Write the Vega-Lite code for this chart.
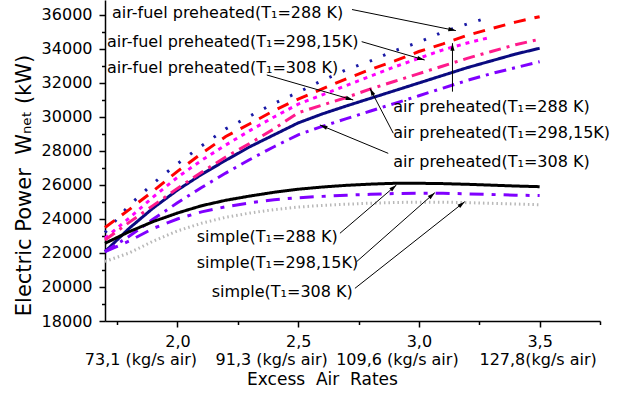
{
  "$schema": "https://vega.github.io/schema/vega-lite/v6.json",
  "width": 495,
  "height": 321,
  "autosize": {"type": "none"},
  "padding": {"left": 105, "top": 0, "right": 22, "bottom": 75},
  "config": {
    "view": {"stroke": null},
    "font": "DejaVu Sans",
    "axis": {"grid": false, "domainColor": "#000", "tickColor": "#000", "labelColor": "#000", "titleColor": "#000", "labelFontSize": 16, "titleFontSize": 17, "titleFontWeight": "normal", "domainWidth": 1.5, "tickWidth": 1.5}
  },
  "datasets": {
    "lines": [
      {"s": "af288", "x": 1.7, "y": 23200}, {"s": "af288", "x": 1.8, "y": 24800}, {"s": "af288", "x": 1.9, "y": 26100}, {"s": "af288", "x": 2.0, "y": 27250}, {"s": "af288", "x": 2.1, "y": 28300}, {"s": "af288", "x": 2.2, "y": 29300}, {"s": "af288", "x": 2.3, "y": 30050}, {"s": "af288", "x": 2.4, "y": 30800}, {"s": "af288", "x": 2.5, "y": 31450}, {"s": "af288", "x": 2.6, "y": 32150}, {"s": "af288", "x": 2.7, "y": 32780}, {"s": "af288", "x": 2.8, "y": 33300}, {"s": "af288", "x": 2.9, "y": 33900}, {"s": "af288", "x": 3.0, "y": 34400}, {"s": "af288", "x": 3.1, "y": 35000}, {"s": "af288", "x": 3.2, "y": 35470}, {"s": "af288", "x": 3.3, "y": 35900},
      {"s": "af298", "x": 1.7, "y": 23500}, {"s": "af298", "x": 1.8, "y": 24550}, {"s": "af298", "x": 1.9, "y": 25650}, {"s": "af298", "x": 2.0, "y": 26800}, {"s": "af298", "x": 2.1, "y": 27850}, {"s": "af298", "x": 2.2, "y": 28850}, {"s": "af298", "x": 2.3, "y": 29600}, {"s": "af298", "x": 2.4, "y": 30380}, {"s": "af298", "x": 2.5, "y": 31050}, {"s": "af298", "x": 2.6, "y": 31650}, {"s": "af298", "x": 2.7, "y": 32250}, {"s": "af298", "x": 2.8, "y": 32800}, {"s": "af298", "x": 2.9, "y": 33300}, {"s": "af298", "x": 3.0, "y": 33850}, {"s": "af298", "x": 3.1, "y": 34300}, {"s": "af298", "x": 3.2, "y": 34800}, {"s": "af298", "x": 3.3, "y": 35200}, {"s": "af298", "x": 3.4, "y": 35580}, {"s": "af298", "x": 3.5, "y": 35900},
      {"s": "af308", "x": 1.7, "y": 22080}, {"s": "af308", "x": 1.8, "y": 23450}, {"s": "af308", "x": 1.9, "y": 24650}, {"s": "af308", "x": 2.0, "y": 25700}, {"s": "af308", "x": 2.1, "y": 26620}, {"s": "af308", "x": 2.2, "y": 27450}, {"s": "af308", "x": 2.3, "y": 28250}, {"s": "af308", "x": 2.4, "y": 28950}, {"s": "af308", "x": 2.5, "y": 29650}, {"s": "af308", "x": 2.6, "y": 30180}, {"s": "af308", "x": 2.7, "y": 30650}, {"s": "af308", "x": 2.8, "y": 31100}, {"s": "af308", "x": 2.9, "y": 31550}, {"s": "af308", "x": 3.0, "y": 32000}, {"s": "af308", "x": 3.1, "y": 32450}, {"s": "af308", "x": 3.2, "y": 32900}, {"s": "af308", "x": 3.3, "y": 33300}, {"s": "af308", "x": 3.4, "y": 33700}, {"s": "af308", "x": 3.5, "y": 34040},
      {"s": "ap288", "x": 1.7, "y": 22870}, {"s": "ap288", "x": 1.8, "y": 24050}, {"s": "ap288", "x": 1.9, "y": 25300}, {"s": "ap288", "x": 2.0, "y": 26450}, {"s": "ap288", "x": 2.1, "y": 27450}, {"s": "ap288", "x": 2.2, "y": 28350}, {"s": "ap288", "x": 2.3, "y": 29200}, {"s": "ap288", "x": 2.4, "y": 30000}, {"s": "ap288", "x": 2.5, "y": 30750}, {"s": "ap288", "x": 2.6, "y": 31300}, {"s": "ap288", "x": 2.7, "y": 31850}, {"s": "ap288", "x": 2.8, "y": 32400}, {"s": "ap288", "x": 2.9, "y": 32950}, {"s": "ap288", "x": 3.0, "y": 33450}, {"s": "ap288", "x": 3.1, "y": 33950}, {"s": "ap288", "x": 3.2, "y": 34350}, {"s": "ap288", "x": 3.3, "y": 34700},
      {"s": "ap298", "x": 1.7, "y": 22760}, {"s": "ap298", "x": 1.8, "y": 23800}, {"s": "ap298", "x": 1.9, "y": 24800}, {"s": "ap298", "x": 2.0, "y": 25800}, {"s": "ap298", "x": 2.1, "y": 26750}, {"s": "ap298", "x": 2.2, "y": 27650}, {"s": "ap298", "x": 2.3, "y": 28450}, {"s": "ap298", "x": 2.4, "y": 29300}, {"s": "ap298", "x": 2.5, "y": 30250}, {"s": "ap298", "x": 2.6, "y": 30700}, {"s": "ap298", "x": 2.7, "y": 31150}, {"s": "ap298", "x": 2.8, "y": 31650}, {"s": "ap298", "x": 2.9, "y": 32100}, {"s": "ap298", "x": 3.0, "y": 32550}, {"s": "ap298", "x": 3.1, "y": 33000}, {"s": "ap298", "x": 3.2, "y": 33450}, {"s": "ap298", "x": 3.3, "y": 33850}, {"s": "ap298", "x": 3.4, "y": 34250}, {"s": "ap298", "x": 3.5, "y": 34570},
      {"s": "ap308", "x": 1.7, "y": 22080}, {"s": "ap308", "x": 1.8, "y": 22980}, {"s": "ap308", "x": 1.9, "y": 24000}, {"s": "ap308", "x": 2.0, "y": 24950}, {"s": "ap308", "x": 2.1, "y": 25850}, {"s": "ap308", "x": 2.2, "y": 26700}, {"s": "ap308", "x": 2.3, "y": 27500}, {"s": "ap308", "x": 2.4, "y": 28250}, {"s": "ap308", "x": 2.5, "y": 28950}, {"s": "ap308", "x": 2.6, "y": 29450}, {"s": "ap308", "x": 2.7, "y": 29900}, {"s": "ap308", "x": 2.8, "y": 30350}, {"s": "ap308", "x": 2.9, "y": 30800}, {"s": "ap308", "x": 3.0, "y": 31250}, {"s": "ap308", "x": 3.1, "y": 31700}, {"s": "ap308", "x": 3.2, "y": 32150}, {"s": "ap308", "x": 3.3, "y": 32550}, {"s": "ap308", "x": 3.4, "y": 32900}, {"s": "ap308", "x": 3.5, "y": 33250},
      {"s": "s288", "x": 1.7, "y": 22570}, {"s": "s288", "x": 1.8, "y": 23250}, {"s": "s288", "x": 1.9, "y": 23850}, {"s": "s288", "x": 2.0, "y": 24350}, {"s": "s288", "x": 2.1, "y": 24780}, {"s": "s288", "x": 2.2, "y": 25100}, {"s": "s288", "x": 2.3, "y": 25350}, {"s": "s288", "x": 2.4, "y": 25570}, {"s": "s288", "x": 2.5, "y": 25750}, {"s": "s288", "x": 2.6, "y": 25880}, {"s": "s288", "x": 2.7, "y": 25980}, {"s": "s288", "x": 2.8, "y": 26050}, {"s": "s288", "x": 2.9, "y": 26100}, {"s": "s288", "x": 3.0, "y": 26100}, {"s": "s288", "x": 3.1, "y": 26080}, {"s": "s288", "x": 3.2, "y": 26040}, {"s": "s288", "x": 3.3, "y": 25990}, {"s": "s288", "x": 3.4, "y": 25940}, {"s": "s288", "x": 3.5, "y": 25900},
      {"s": "s298", "x": 1.7, "y": 22080}, {"s": "s298", "x": 1.8, "y": 22700}, {"s": "s298", "x": 1.9, "y": 23450}, {"s": "s298", "x": 2.0, "y": 24000}, {"s": "s298", "x": 2.1, "y": 24420}, {"s": "s298", "x": 2.2, "y": 24720}, {"s": "s298", "x": 2.3, "y": 24950}, {"s": "s298", "x": 2.4, "y": 25130}, {"s": "s298", "x": 2.5, "y": 25250}, {"s": "s298", "x": 2.6, "y": 25330}, {"s": "s298", "x": 2.7, "y": 25400}, {"s": "s298", "x": 2.8, "y": 25450}, {"s": "s298", "x": 2.9, "y": 25500}, {"s": "s298", "x": 3.0, "y": 25510}, {"s": "s298", "x": 3.1, "y": 25510}, {"s": "s298", "x": 3.2, "y": 25480}, {"s": "s298", "x": 3.3, "y": 25440}, {"s": "s298", "x": 3.4, "y": 25400}, {"s": "s298", "x": 3.5, "y": 25380},
      {"s": "s308", "x": 1.7, "y": 21500}, {"s": "s308", "x": 1.8, "y": 22000}, {"s": "s308", "x": 1.9, "y": 22700}, {"s": "s308", "x": 2.0, "y": 23300}, {"s": "s308", "x": 2.1, "y": 23750}, {"s": "s308", "x": 2.2, "y": 24100}, {"s": "s308", "x": 2.3, "y": 24350}, {"s": "s308", "x": 2.4, "y": 24550}, {"s": "s308", "x": 2.5, "y": 24700}, {"s": "s308", "x": 2.6, "y": 24800}, {"s": "s308", "x": 2.7, "y": 24870}, {"s": "s308", "x": 2.8, "y": 24930}, {"s": "s308", "x": 2.9, "y": 24970}, {"s": "s308", "x": 3.0, "y": 24990}, {"s": "s308", "x": 3.1, "y": 24990}, {"s": "s308", "x": 3.2, "y": 24960}, {"s": "s308", "x": 3.3, "y": 24920}, {"s": "s308", "x": 3.4, "y": 24880}, {"s": "s308", "x": 3.5, "y": 24840}
    ],
    "labels": [
      {"x": 1.729, "y": 36120, "t": "air-fuel preheated(T₁=288 K)"},
      {"x": 1.708, "y": 34430, "t": "air-fuel preheated(T₁=298,15K)"},
      {"x": 1.708, "y": 32860, "t": "air-fuel preheated(T₁=308 K)"},
      {"x": 2.894, "y": 30610, "t": "air preheated(T₁=288 K)"},
      {"x": 2.894, "y": 29040, "t": "air preheated(T₁=298,15K)"},
      {"x": 2.894, "y": 27370, "t": "air preheated(T₁=308 K)"},
      {"x": 2.08, "y": 22960, "t": "simple(T₁=288 K)"},
      {"x": 2.08, "y": 21390, "t": "simple(T₁=298,15K)"},
      {"x": 2.142, "y": 19720, "t": "simple(T₁=308 K)"}
    ],
    "arrows": [
      {"sx": 2.723, "sy": 36320, "tx": 3.153, "ty": 35080},
      {"sx": 2.763, "sy": 34430, "tx": 3.024, "ty": 33350},
      {"sx": 2.37, "sy": 32470, "tx": 2.728, "ty": 31000},
      {"sx": 3.139, "sy": 31490, "tx": 3.139, "ty": 34340},
      {"sx": 2.894, "sy": 29040, "tx": 2.797, "ty": 31690},
      {"sx": 2.873, "sy": 27860, "tx": 2.59, "ty": 29530},
      {"sx": 2.673, "sy": 23160, "tx": 2.907, "ty": 26000},
      {"sx": 2.742, "sy": 21490, "tx": 3.066, "ty": 25550},
      {"sx": 2.735, "sy": 19920, "tx": 3.19, "ty": 25020}
    ]
  },
  "resolve": {"axis": {"x": "independent", "y": "independent"}},
  "layer": [
    {
      "data": {"name": "lines"},
      "mark": {"type": "line", "strokeCap": "butt"},
      "encoding": {
        "x": {"field": "x", "type": "quantitative", "scale": {"domain": [1.7, 3.75], "nice": false, "zero": false},
          "axis": {"orient": "bottom", "values": [2, 2.5, 3, 3.5], "labelExpr": "replace(format(datum.value, '.1f'), '.', ',')", "tickSize": 6, "labelPadding": 6, "title": null, "labelFlush": false}},
        "y": {"field": "y", "type": "quantitative", "scale": {"domain": [18000, 36880], "nice": false, "zero": false},
          "axis": {"orient": "left", "values": [18000, 20000, 22000, 24000, 26000, 28000, 30000, 32000, 34000, 36000], "format": "d", "tickSize": 6, "labelPadding": 7, "title": "Electric Power\u00a0 Wₙₑₜ (kW)", "titleFontSize": 21, "titlePadding": 7, "titleY": 185, "titleAlign": "center", "labelFlush": false}},
        "color": {"field": "s", "type": "nominal", "legend": null,
          "scale": {"domain": ["af288", "af298", "af308", "ap288", "ap298", "ap308", "s288", "s298", "s308"],
                    "range": ["#1a1aa6", "#ff0000", "#0a0a80", "#ff00ff", "#ff1a8c", "#8000ff", "#000000", "#8000ff", "#b8b8b8"]}},
        "strokeDash": {"field": "s", "type": "nominal", "legend": null,
          "scale": {"domain": ["af288", "af298", "af308", "ap288", "ap298", "ap308", "s288", "s298", "s308"],
                    "range": [[2.5, 12], [12, 9], [1, 0], [4, 5], [12, 6, 3, 6], [12, 6, 3, 6], [1, 0], [14, 8, 4, 8], [1.5, 3]]}},
        "strokeWidth": {"field": "s", "type": "nominal", "legend": null,
          "scale": {"domain": ["af288", "af298", "af308", "ap288", "ap298", "ap308", "s288", "s298", "s308"],
                    "range": [3, 3, 2.5, 3, 3, 3, 2.5, 3, 1.5]}},
        "detail": {"field": "s"}
      }
    },
    {
      "data": {"name": "labels"},
      "mark": {"type": "text", "align": "left", "baseline": "middle", "fontSize": 16, "color": "#000"},
      "encoding": {
        "x": {"field": "x", "type": "quantitative",
          "axis": {"orient": "bottom", "values": [2, 2.5, 3, 3.5], "domain": false, "ticks": false, "tickSize": 0, "labelPadding": 30, "labelFlush": false,
            "labelExpr": "datum.value == 2 ? '73,1 (kg/s air)' : datum.value == 2.5 ? '91,3 (kg/s air)' : datum.value == 3 ? '109,6 (kg/s air)' : '127,8(kg/s air)'",
            "labelOffset": {"condition": [{"test": "datum.value == 2", "value": -37}, {"test": "datum.value == 2.5", "value": -27}, {"test": "datum.value == 3", "value": -22}], "value": -2},
            "title": "Excess\u00a0 Air\u00a0 Rates", "titleX": 217, "titleAlign": "center", "titlePadding": 4}},
        "y": {"field": "y", "type": "quantitative",
          "axis": {"orient": "left", "values": [19000, 21000, 23000, 25000, 27000, 29000, 31000, 33000, 35000], "domain": false, "labels": false, "tickSize": 3.5, "title": null}},
        "text": {"field": "t"}
      }
    },
    {
      "data": {"name": "arrows"},
      "mark": {"type": "rule", "color": "#000", "strokeWidth": 1},
      "encoding": {
        "x": {"field": "sx", "type": "quantitative",
          "axis": {"orient": "bottom", "values": [1.75, 2.25, 2.75, 3.25, 3.75], "domain": false, "labels": false, "tickSize": 3.5, "title": null}},
        "y": {"field": "sy", "type": "quantitative", "axis": null},
        "x2": {"field": "tx"},
        "y2": {"field": "ty"}
      }
    },
    {
      "data": {"name": "arrows"},
      "mark": {"type": "point", "filled": true, "color": "#000", "opacity": 1, "size": 70,
        "shape": "M0,0L0.5,1.8L-0.5,1.8Z",
        "angle": {"expr": "atan2(scale('x', datum.tx) - scale('x', datum.sx), scale('y', datum.sy) - scale('y', datum.ty)) * 180 / PI"}},
      "encoding": {
        "x": {"field": "tx", "type": "quantitative", "axis": null},
        "y": {"field": "ty", "type": "quantitative", "axis": null}
      }
    }
  ]
}
